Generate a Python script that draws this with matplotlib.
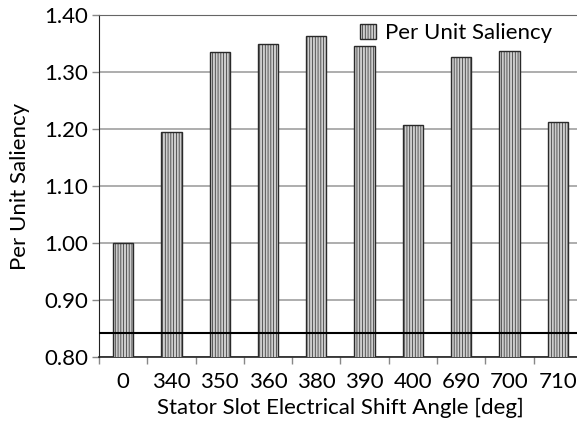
import matplotlib
matplotlib.use('Agg')
import matplotlib.pyplot as plt
import numpy as np

plt.rcParams['font.family'] = ['Lato', 'DejaVu Sans']

# Data
angles = ['0', '340', '350', '360', '380', '390', '400', '690', '700', '710']
saliency = [1.000, 1.194, 1.335, 1.349, 1.364, 1.346, 1.207, 1.326, 1.337, 1.212]
ref_level = 0.842
yticks = [0.80, 0.90, 1.00, 1.10, 1.20, 1.30, 1.40]

plt.rcParams['hatch.color'] = '#b4b4b4'
plt.rcParams['hatch.linewidth'] = 0.5

fig = plt.figure(figsize=(5.77, 4.28), dpi=100)
ax = fig.add_axes([0.1716, 0.1659, 0.837, 0.799])

x = np.arange(len(angles))
ax.bar(x, saliency, width=0.42, bottom=0, color='#cdcdcd', edgecolor='#2a2a2a',
       linewidth=1.0, hatch='||||||', label='Per Unit Saliency', zorder=3)

# horizontal reference line
ax.axhline(ref_level, color='black', linewidth=1.5, zorder=4)

ax.set_ylim(0.80, 1.40)
ax.set_xlim(-0.5, len(angles) - 0.5)
ax.set_yticks(yticks)
ax.set_yticklabels(['%.2f' % v for v in yticks], fontsize=16)
ax.yaxis.grid(True, color='#a0a0a0', linewidth=1.2, zorder=0)
ax.set_axisbelow(True)

ax.set_xticks(x)
ax.set_xticklabels(angles, fontsize=16)
ax.set_xticks(np.arange(-0.5, len(angles)), minor=True)
ax.tick_params(axis='x', which='major', length=0, pad=11)
ax.tick_params(axis='x', which='minor', length=5, width=1, color='#888888')
ax.tick_params(axis='y', length=5, width=1, color='#888888', pad=3)

ax.spines['right'].set_visible(False)
ax.spines['top'].set_color('#666666')
ax.spines['left'].set_color('#222222')
ax.spines['bottom'].set_color('#222222')
ax.spines['bottom'].set_linewidth(1.2)

ax.set_xlabel('Stator Slot Electrical Shift Angle [deg]', fontsize=16, labelpad=4)
ax.set_ylabel('Per Unit Saliency', fontsize=16, labelpad=10)

ax.legend(loc='upper right', frameon=False, fontsize=16, handlelength=0.7,
          handleheight=0.7, handletextpad=0.4, borderaxespad=0.2,
          bbox_to_anchor=(0.965, 1.015))

plt.savefig('out.png', dpi=100)
